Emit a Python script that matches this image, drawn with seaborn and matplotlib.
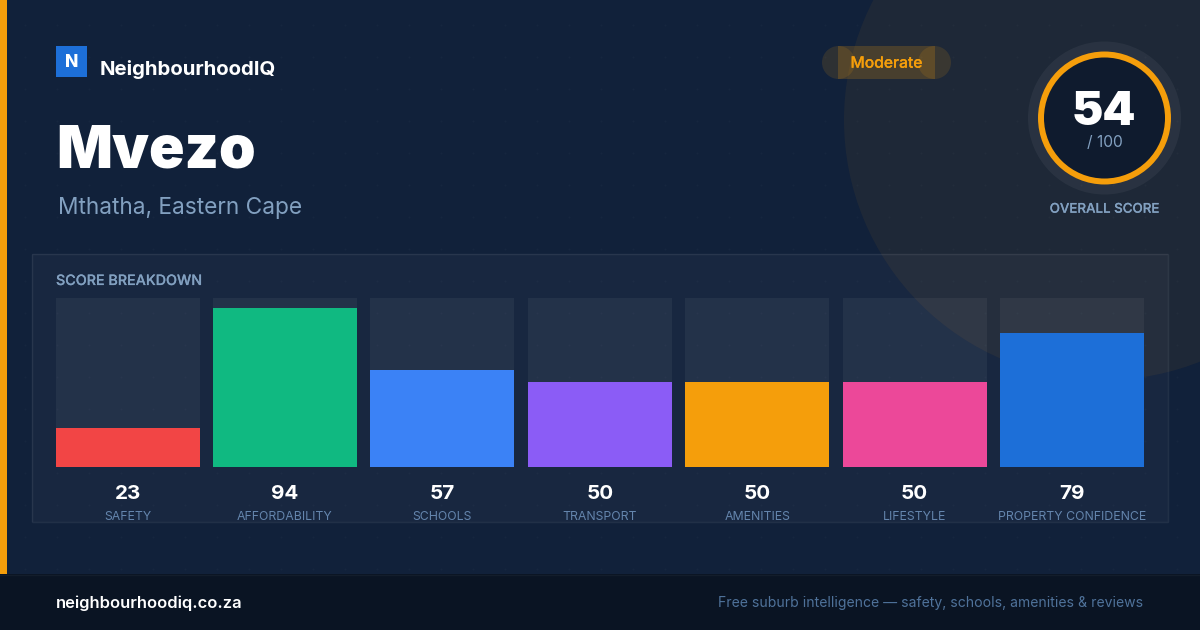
import matplotlib
matplotlib.use('Agg')
import matplotlib.pyplot as plt
from matplotlib.patches import Circle, Rectangle
import matplotlib.patheffects as pe
import numpy as np
import pandas as pd
import seaborn as sns

categories = ['SAFETY', 'AFFORDABILITY', 'SCHOOLS', 'TRANSPORT', 'AMENITIES', 'LIFESTYLE', 'PROPERTY CONFIDENCE']
scores = [23, 94, 57, 50, 50, 50, 79]
bar_colors = ['#f24545', '#10b981', '#3b82f6', '#8b5cf6', '#f59e0b', '#ec4899', '#1d6fd8']
track = [100] * 7

sns.set_theme(style='white')
plt.rcParams['font.family'] = ['Inter', 'DejaVu Sans']

BG = '#11213a'
AMBER = '#f59e0b'
MUTED = '#82a0c0'
AX_LEFT = 48.9
PITCH = 157.4

fig = plt.figure(figsize=(12, 6.3), dpi=100, facecolor=BG)

# fondo en coordenadas de pixel
bg = fig.add_axes([0, 0, 1, 1])
bg.set_xlim(0, 1200)
bg.set_ylim(630, 0)
bg.axis('off')

# grosor extra para los textos medium
medium = [pe.withStroke(linewidth=0.12, foreground=MUTED)]

# puntos del fondo
dx, dy = np.meshgrid(np.arange(25, 1200, 32), np.arange(25, 574, 32))
bg.scatter(dx.ravel(), dy.ravel(), s=2.2, color='white', alpha=0.025, linewidths=0, zorder=1)

bg.add_patch(Circle((1104, 120), 260, color=AMBER, alpha=0.06, lw=0, zorder=2))

# panel
bg.add_patch(Rectangle((32, 254), 1136, 268, facecolor='white', alpha=0.03, lw=0, zorder=3))
bg.add_patch(Rectangle((32, 254), 1136, 268, fill=False, edgecolor='white', alpha=0.07, lw=1, zorder=3))

# barra izquierda y pie
bg.add_patch(Rectangle((0, 0), 7, 574, color=AMBER, lw=0, zorder=4))
bg.add_patch(Rectangle((0, 574), 1200, 56, color='#0a1423', lw=0, zorder=4))
bg.plot([0, 1200], [574.5, 574.5], color='white', alpha=0.04, lw=1, zorder=5)

# logo
bg.add_patch(Rectangle((56, 46), 31, 31, color='#1d6fd8', lw=0, zorder=4))
bg.text(71.5, 66.7, 'N', color='white', fontsize=12.5, fontweight='heavy', ha='center', va='baseline', zorder=6)
bg.text(100, 75, 'NeighbourhoodIQ', color='white', fontsize=14.65, fontweight='bold', ha='left', va='baseline', zorder=6)

bg.text(56, 168, 'Mvezo', color='white', fontsize=42.2, fontweight='black', ha='left', va='baseline', zorder=6)
bg.text(58, 214, 'Mthatha, Eastern Cape', color=MUTED, fontsize=16.35, ha='left', va='baseline', zorder=6)

# pastilla
bg.add_patch(Rectangle((838, 46), 97, 33, color=AMBER, alpha=0.2, lw=0, zorder=4))
bg.add_patch(Circle((838.5, 62.5), 16.5, color=AMBER, alpha=0.13, lw=0, zorder=4))
bg.add_patch(Circle((934.5, 62.5), 16.5, color=AMBER, alpha=0.13, lw=0, zorder=4))
bg.text(886.5, 67.7, 'Moderate', color=AMBER, fontsize=11.25, fontweight='medium', ha='center', va='baseline', zorder=6,
        path_effects=[pe.withStroke(linewidth=0.12, foreground=AMBER)])

# anillo de puntuacion
bg.add_patch(Circle((1104.5, 118), 76.5, color='white', alpha=0.05, lw=0, zorder=4))
bg.add_patch(Circle((1104.5, 118), 63.5, facecolor='#0f1b2e', edgecolor=AMBER, lw=4.3, zorder=5))
bg.text(1104, 125, '54', color='white', fontsize=34, fontweight='black', ha='center', va='baseline', zorder=6)
bg.text(1104.5, 147, '/ 100', color=MUTED, fontsize=11.2, ha='center', va='baseline', zorder=6)
bg.text(1104.5, 212.7, 'OVERALL SCORE', color=MUTED, fontsize=9.6, fontweight='medium', ha='center', va='baseline',
        zorder=6, path_effects=medium)

bg.text(56, 285, 'SCORE BREAKDOWN', color=MUTED, fontsize=10.3, fontweight='medium', ha='left', va='baseline',
        zorder=6, path_effects=medium)

# pie
bg.text(56, 608, 'neighbourhoodiq.co.za', color='white', fontsize=11.85, fontweight='semibold', ha='left', va='baseline', zorder=6)
bg.text(1143, 607, 'Free suburb intelligence \u2014 safety, schools, amenities & reviews', color='#4f729a',
        fontsize=10.1, ha='right', va='baseline', zorder=6)

# barras
ax = fig.add_axes([AX_LEFT / 1200, (630 - 467) / 630, 7 * PITCH / 1200, 169.5 / 630])
ax.patch.set_alpha(0)
data = pd.DataFrame({'category': categories, 'score': scores, 'track': track})
sns.barplot(data=data, x='category', y='track', color='white', alpha=0.05, width=0.9149,
            saturation=1, linewidth=0, ax=ax)
sns.barplot(data=data, x='category', y='score', hue='category', palette=bar_colors, width=0.9149,
            saturation=1, linewidth=0, legend=False, ax=ax)
ax.set_ylim(0, 100)
ax.set_xlim(-0.5, 6.5)
ax.set_xlabel('')
ax.set_ylabel('')
ax.set_yticks([])
ax.tick_params(axis='x', length=0, pad=31.6, labelsize=8.85, labelcolor='#6485ad')
sns.despine(ax=ax, left=True, bottom=True)

# valores sobre las etiquetas
for i, v in enumerate(scores):
    bg.text(AX_LEFT + (i + 0.5) * PITCH, 499.3, str(v), color='white', fontsize=14.8, fontweight='bold',
            ha='center', va='baseline', zorder=6)

fig.savefig('out.png', dpi=100, facecolor=BG)
